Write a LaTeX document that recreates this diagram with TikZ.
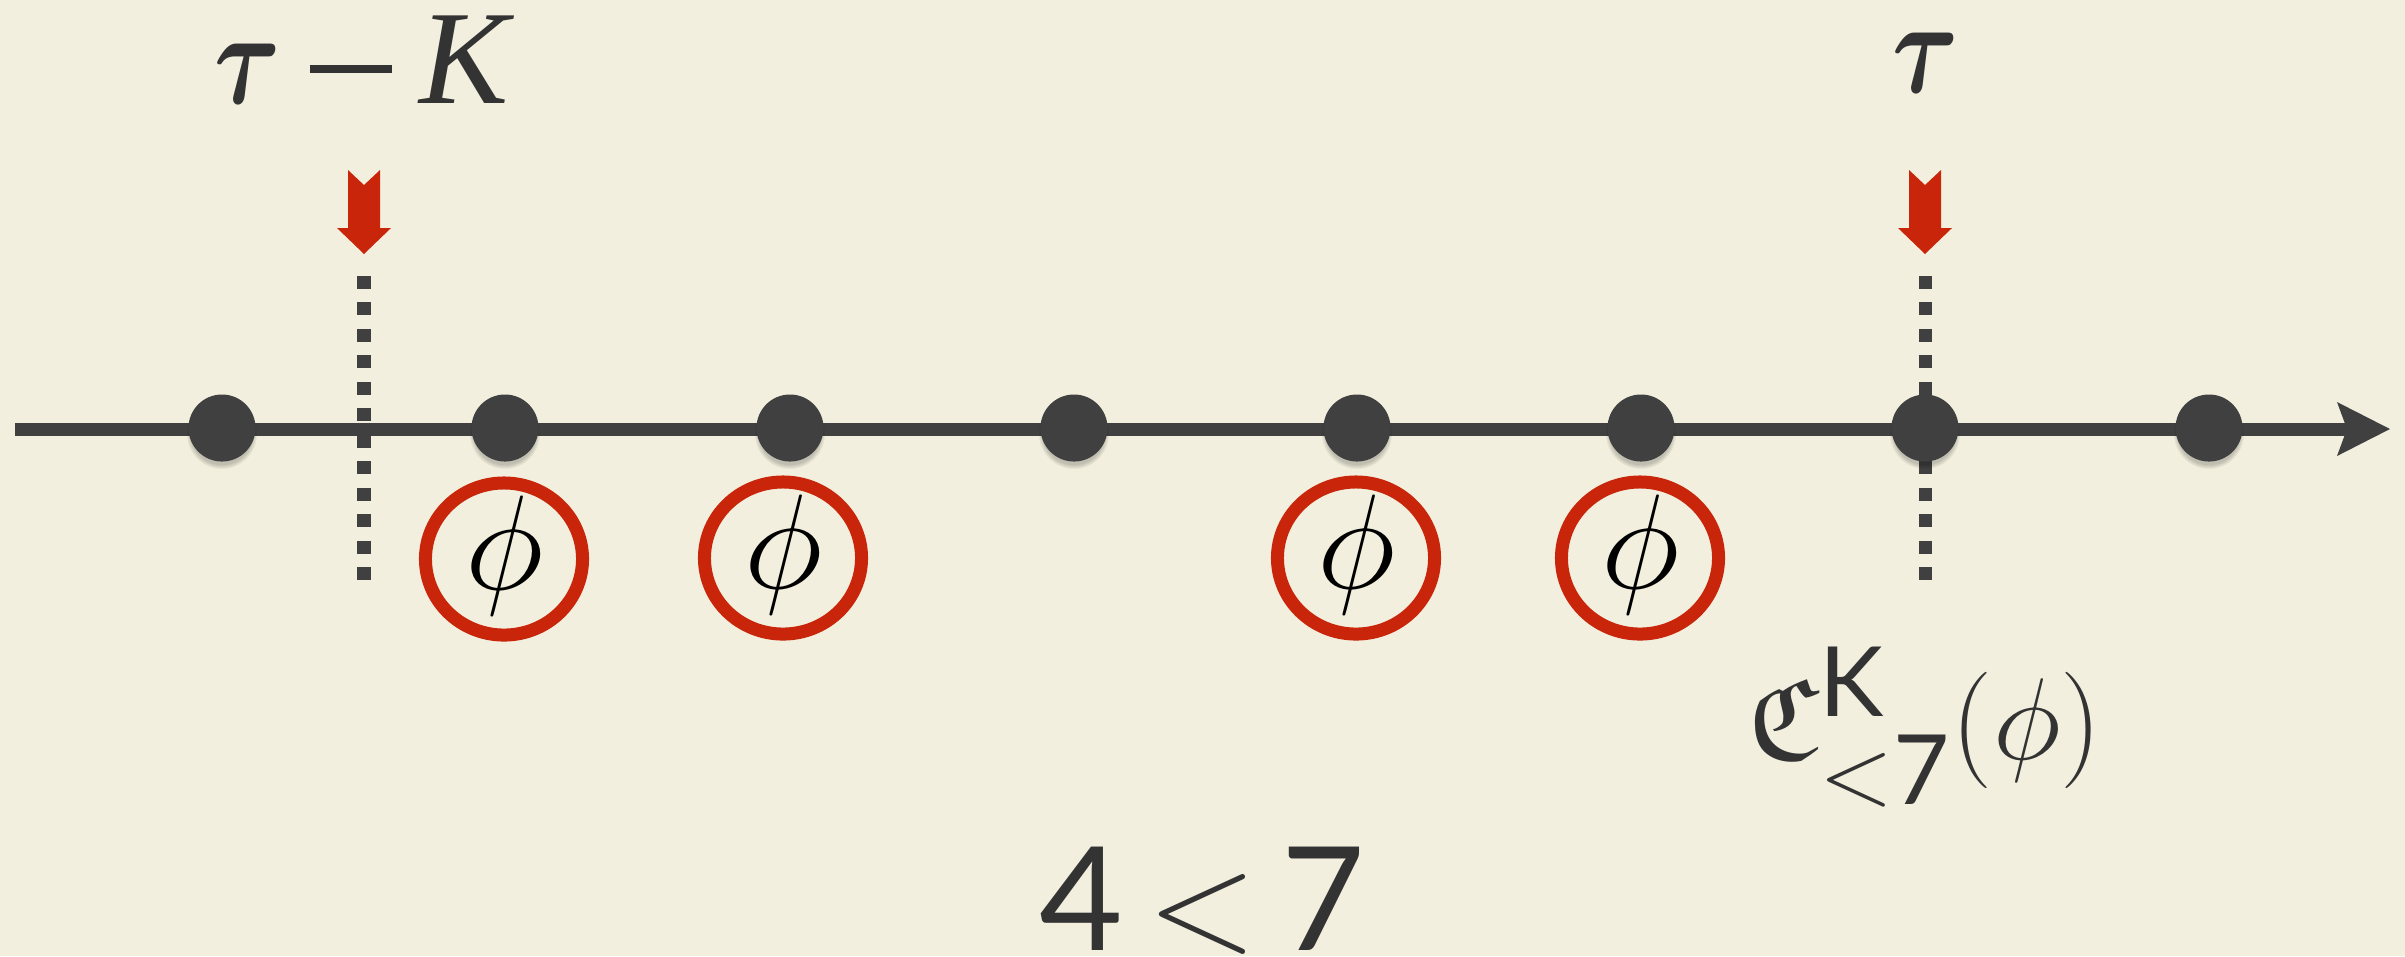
\documentclass[tikz,border=0pt]{standalone}
\usepackage{graphicx}
\usepackage{amsmath,amssymb}
\usepackage{fontspec}
\newfontfamily\tfont{Liberation Serif}
\newfontfamily\lato{Lato}
\usetikzlibrary{arrows.meta,shapes.geometric}
\definecolor{bg}{HTML}{F2EFDE}
\definecolor{ink}{HTML}{404040}
\definecolor{txt}{HTML}{333333}
\definecolor{rd}{HTML}{C8250A}
\begin{document}
\begin{tikzpicture}[x=0.01cm,y=-0.01cm,
  dot/.style={circle,fill=ink,minimum size=0.67cm,inner sep=0pt},
  phiring/.style={ellipse,draw=rd,line width=0.13cm,minimum width=1.57cm,minimum height=1.52cm,inner sep=0pt},
  phitext/.style={inner sep=0pt,text=black,font=\fontsize{24.88}{28}\selectfont},
  marker/.style={draw=ink,line width=0.13cm,dash pattern=on 0.13cm off 0.1345cm},
  redarrow/.style={fill=rd},
  lbl/.style={text=txt,inner sep=0pt,anchor=base,font=\fontsize{24.88}{28}\selectfont},
  axis/.style={draw=ink,line width=0.13cm,-{Stealth[length=0.53cm,width=0.54cm,inset=0.1cm,line width=0pt]}}]

\fill[bg] (0,0) rectangle (2405,956);
\useasboundingbox (0,0) rectangle (2405,956);

% dotted markers
\coordinate (m1t) at (364,276); \coordinate (m1b) at (364,580);
\coordinate (m2t) at (1925,276); \coordinate (m2b) at (1925,580);
\draw[marker] (m1t) -- (m1b);
\draw[marker] (m2t) -- (m2b);

% axis
\coordinate (s) at (15,429);
\coordinate (e) at (2390,429);
\draw[axis] (s) -- (e);

% dot shadows and dots
\foreach \i/\x in {1/222,2/505,3/790,4/1074,5/1357,6/1641,7/1925,8/2209}{
  \foreach \k in {0,...,4}{
    \fill[black,opacity=0.045] (\x,434) circle [radius=31+\k];
  }
  \node[dot] (d\i) at (\x,428) {};
}

% red arrows
\foreach \ax in {364,1925}{
  \begin{scope}[shift={(\ax,0)}]
    \fill[redarrow] (-16,170) -- (0,185) -- (16,170) -- (16,228) -- (27,228) -- (0,254) -- (-27,228) -- (-16,228) -- cycle;
  \end{scope}
}

% phi circles
\foreach \i/\x/\y in {1/504/559,2/783/558,3/1356/558,4/1640/558}{
  \node[phiring] (c\i) at (\x,\y) {};
  \node[phitext] (p\i) at (\x+1,\y-3) {\scalebox{1.54}{$\phi$}};
}

% labels
\node[lbl] (lk) at (362,103) {\scalebox{1.16}[1.53]{$\boldsymbol{\tau}$}\hspace{8pt}\rule[8.4pt]{23.3pt}{2.3pt}\hspace{8pt}\scalebox{1.53}{\tfont\itshape K}};
\node[lbl] (lt) at (1926,92) {\scalebox{1.16}[1.53]{$\boldsymbol{\tau}$}};
\node[lbl] (cl) at (1925,759) {\scalebox{1.33}{$\mathfrak{C}^{\text{\lato K}}_{<\text{\lato 7}}(\phi)$}};
\node[lbl] (ineq) at (1202,950) {\scalebox{1.65}{{\lato 4}\,$<$\,{\lato 7}}};
\end{tikzpicture}
\end{document}
